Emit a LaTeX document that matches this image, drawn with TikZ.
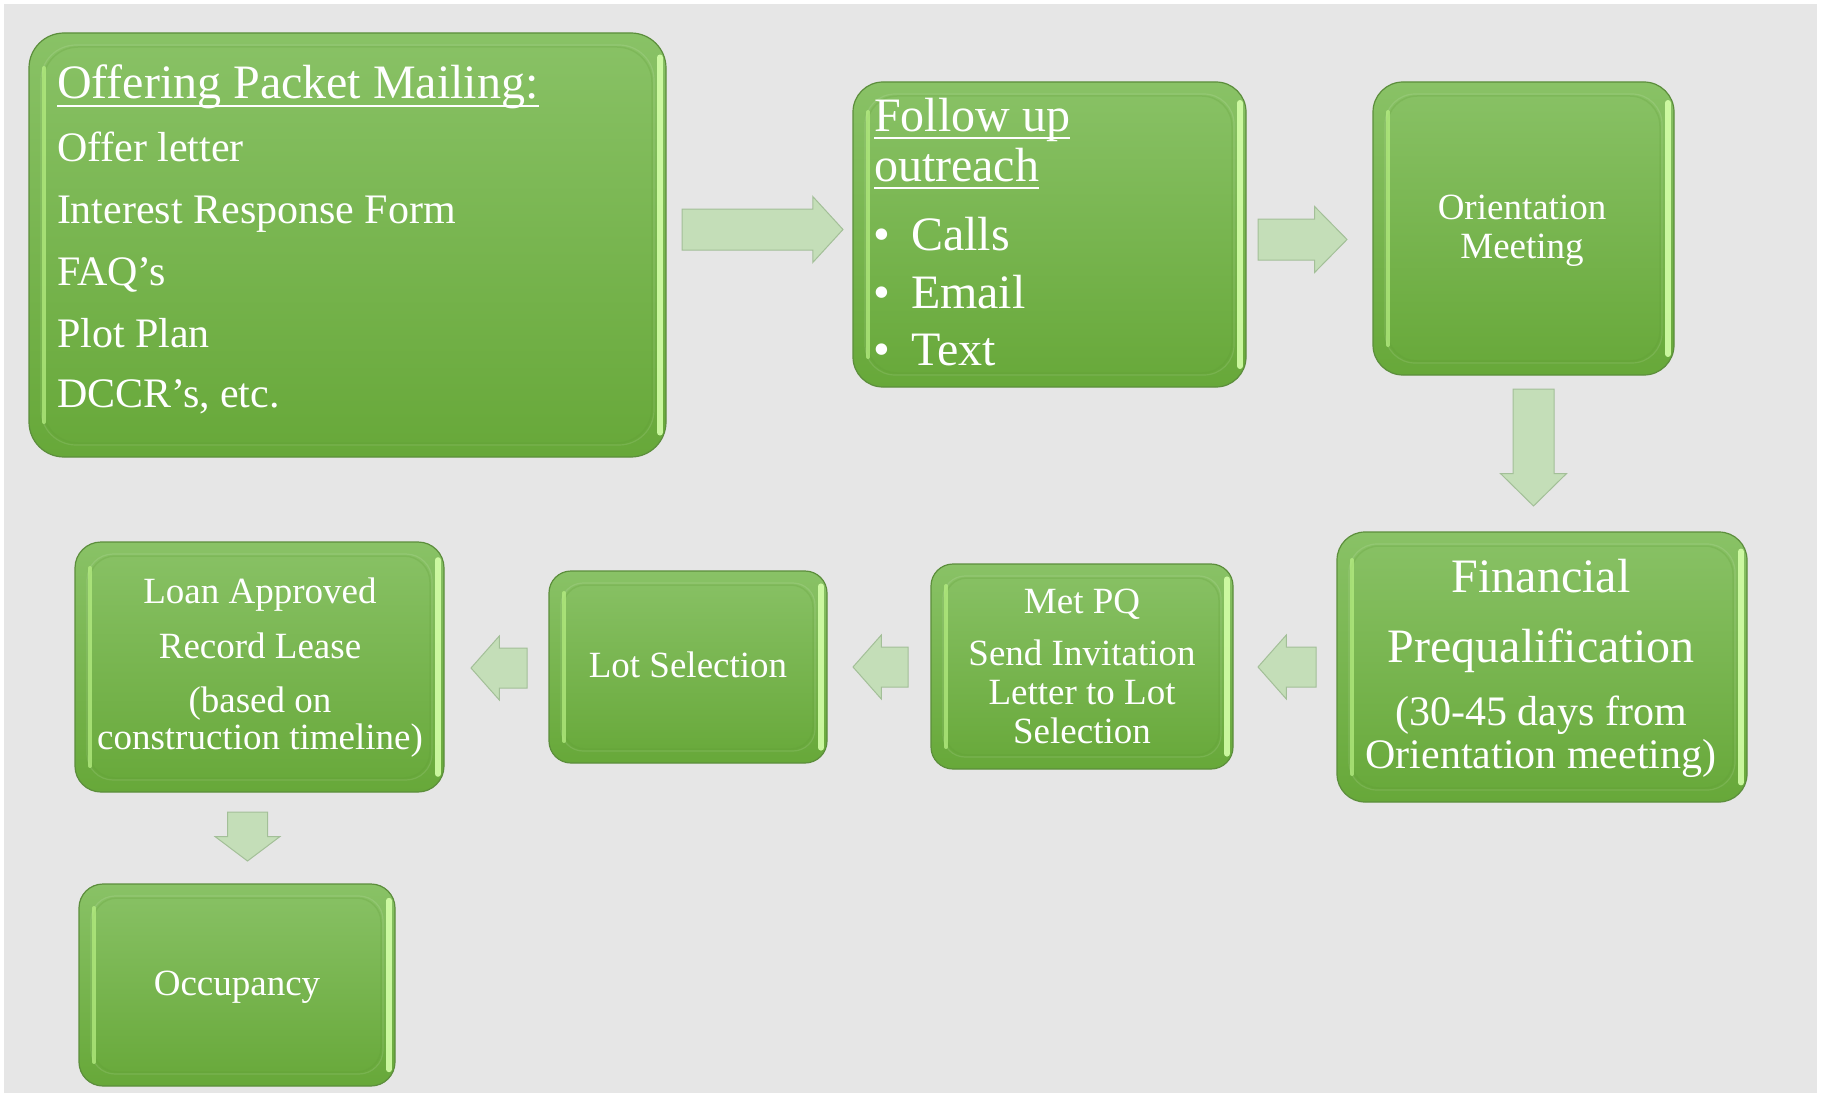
\documentclass[tikz,border=0pt]{standalone}
\usepackage{fontspec}
\setmainfont{Liberation Serif}
\usetikzlibrary{shapes.arrows}
\definecolor{bg}{HTML}{E6E6E6}
\definecolor{gtop}{HTML}{89C266}
\definecolor{gmid}{HTML}{76B647}
\definecolor{gbot}{HTML}{67A839}
\definecolor{gborder}{HTML}{5C8E3C}
\definecolor{gin}{HTML}{5E9A34}
\definecolor{hlL}{HTML}{B6EE82}
\definecolor{hlR}{HTML}{D4FFA8}
\definecolor{afill}{HTML}{C4DEB8}
\definecolor{aborder}{HTML}{A3BF98}
\newcommand\fBig{\fontsize{48}{50}\selectfont}
\newcommand\fMid{\fontsize{42}{44}\selectfont}
\newcommand\fSm{\fontsize{37}{39}\selectfont}
\tikzset{
  gboxst/.style={rectangle, inner sep=0pt, outer sep=0pt, draw=gborder, line width=1.2pt,
    top color=gtop, middle color=gmid, bottom color=gbot},
  txt/.style={text=white, inner sep=0pt, outer sep=0pt},
  uline/.style={white, line width=1.6pt},
  arr/.style={single arrow, draw=aborder, fill=afill, line width=1pt, inner xsep=0pt,
    outer sep=0pt, anchor=tail}
}
% name, x1, y1, x2, y2, radius
\newcommand\gbox[6]{%
  \node[gboxst, rounded corners=#6pt, minimum width={(#4-#2)*1pt}, minimum height={(#5-#3)*1pt}]
    (#1) at ({(#2+#4)/2},{(#3+#5)/2}) {};
  \draw[gin, opacity=0.22, line width=1.5pt, rounded corners=#6pt]
    ([shift={(14pt,-14pt)}]#1.north west) rectangle ([shift={(-14pt,14pt)}]#1.south east);
  \draw[white, opacity=0.1, line width=1.2pt, rounded corners=#6pt]
    ([shift={(12pt,-12pt)}]#1.north west) rectangle ([shift={(-12pt,12pt)}]#1.south east);
  \draw[hlL, opacity=0.75, line width=4pt, line cap=round]
    ([xshift=15pt,yshift=-#6pt]#1.north west) -- ([xshift=15pt,yshift=#6pt]#1.south west);
  \draw[hlR, opacity=0.9, line width=6pt, line cap=round]
    ([xshift=-6pt,yshift={-0.7*#6pt}]#1.north east) -- ([xshift=-6pt,yshift={0.7*#6pt}]#1.south east);
}
\begin{document}
\begin{tikzpicture}[x=1pt,y=-1pt]
\useasboundingbox (0,0) rectangle (1829,1105);
\fill[white] (0,0) rectangle (1829,1105);
\fill[bg] (4,4) rectangle (1817,1093);

% boxes
\gbox{b1}{29}{33}{666}{457}{35}
\gbox{b2}{853}{82}{1246}{387}{30}
\gbox{b3}{1373}{82}{1674}{375}{30}
\gbox{b4}{1337}{532}{1747}{802}{28}
\gbox{b5}{931}{564}{1233}{769}{22}
\gbox{b6}{549}{571}{827}{763}{22}
\gbox{b7}{75}{542}{444}{792}{26}
\gbox{b8}{79}{884}{395}{1086}{24}

% box 1 text
\node[txt, anchor=base west] (t11) at (57,99) {\fBig Offering Packet Mailing:};
\draw[uline] ([yshift=-7pt]t11.base west) -- ([yshift=-7pt]t11.base east);
\node[txt, anchor=base west] (t12) at (57,162) {\fMid Offer letter};
\node[txt, anchor=base west] (t13) at (57,223) {\fMid Interest Response Form};
\node[txt, anchor=base west] (t14) at (57,285) {\fMid FAQ’s};
\node[txt, anchor=base west] (t15) at (57,347) {\fMid Plot Plan};
\node[txt, anchor=base west] (t16) at (57,407) {\fMid DCCR’s, etc.};

% box 2 text
\node[txt, anchor=base west] (t21) at (874,132) {\fBig Follow up};
\draw[uline] ([yshift=-6pt]t21.base west) -- ([yshift=-6pt]t21.base east);
\node[txt, anchor=base west] (t22) at (874,182) {\fBig outreach};
\draw[uline] ([yshift=-6pt]t22.base west) -- ([yshift=-6pt]t22.base east);
\node[txt, anchor=base west] (p1) at (873,250) {\fBig •};
\node[txt, anchor=base west] (t23) at (911,250) {\fBig Calls};
\node[txt, anchor=base west] (p2) at (873,308) {\fBig •};
\node[txt, anchor=base west] (t24) at (911,308) {\fBig Email};
\node[txt, anchor=base west] (p3) at (873,365) {\fBig •};
\node[txt, anchor=base west] (t25) at (911,365) {\fBig Text};

% box 3 text
\node[txt, anchor=base] (t31) at (1522,219) {\fSm Orientation};
\node[txt, anchor=base] (t32) at (1522,258) {\fSm Meeting};

% box 4 text
\node[txt, anchor=base] (t41) at (1541,592) {\fBig Financial};
\node[txt, anchor=base] (t42) at (1541,662) {\fBig Prequalification};
\node[txt, anchor=base] (t43) at (1541,725) {\fMid (30-45 days from};
\node[txt, anchor=base] (t44) at (1541,768) {\fMid Orientation meeting)};

% box 5 text
\node[txt, anchor=base] (t51) at (1082,613) {\fSm Met PQ};
\node[txt, anchor=base] (t52) at (1082,665) {\fSm Send Invitation};
\node[txt, anchor=base] (t53) at (1082,704) {\fSm Letter to Lot};
\node[txt, anchor=base] (t54) at (1082,743) {\fSm Selection};

% box 6 text
\node[txt, anchor=base] (t61) at (688,677) {\fSm Lot Selection};

% box 7 text
\node[txt, anchor=base] (t71) at (260,603) {\fSm Loan Approved};
\node[txt, anchor=base] (t72) at (260,658) {\fSm Record Lease};
\node[txt, anchor=base] (t73) at (260,712) {\fSm (based on};
\node[txt, anchor=base] (t74) at (260,749) {\fSm construction timeline)};

% box 8 text
\node[txt, anchor=base] (t81) at (237,995) {\fSm Occupancy};

% block arrows
\node[arr, inner ysep=20pt, minimum height=161pt, single arrow head extend=12.5pt,
  single arrow tip angle=95] (a1) at (682,229.5) {};
\node[arr, inner ysep=20pt, minimum height=89pt, single arrow head extend=12.5pt,
  single arrow tip angle=91] (a2) at (1258,239.5) {};
\node[arr, inner ysep=20pt, rotate=270, minimum height=117pt, single arrow head extend=12.5pt,
  single arrow tip angle=91] (a3) at (1533.5,389) {};
\node[arr, inner ysep=19.5pt, rotate=180, minimum height=58pt, single arrow head extend=12pt,
  single arrow tip angle=97] (a4) at (1316,667) {};
\node[arr, inner ysep=19.5pt, rotate=180, minimum height=55pt, single arrow head extend=12pt,
  single arrow tip angle=97] (a5) at (908,667) {};
\node[arr, inner ysep=19.5pt, rotate=180, minimum height=56pt, single arrow head extend=12pt,
  single arrow tip angle=97] (a6) at (527,668) {};
\node[arr, inner ysep=19.5pt, rotate=270, minimum height=49pt, single arrow head extend=12.5pt,
  single arrow tip angle=106] (a7) at (247.5,812) {};
\end{tikzpicture}
\end{document}
